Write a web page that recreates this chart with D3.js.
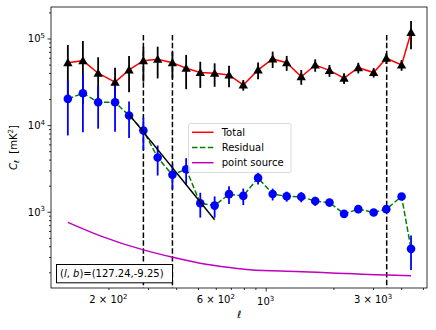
<!DOCTYPE html>
<html>
<head>
<meta charset="utf-8">
<script src="https://cdn.jsdelivr.net/npm/d3@7"></script>
<style>
  body { margin: 0; background: #fff; }
  svg text { font-family: 'DejaVu Sans', sans-serif; fill: #000; }
</style>
</head>
<body>
<div id="graph"></div>
<script>
'use strict';

let WIDTH = 436;
let HEIGHT = 330;
let PLOT = { left: 51, right: 427, top: 7, bottom: 288 };

// multipole bins
let ELL = [132, 154, 180, 214, 247, 286, 331, 385, 443, 512, 593, 687, 795,
    925, 1074, 1240, 1439, 1660, 1921, 2230, 2580, 3020, 3436, 4018, 4426];

let TOTAL = [52600, 55500, 39700, 31300, 43400, 55500, 57500, 52600, 45300,
    40400, 39700, 37900, 29100, 43400, 58100, 52600, 36200, 49400, 42800,
    34800, 46000, 40400, 59200, 49400, 117300];
let TOTAL_ERR = [31500, 38100, 21000, 14700, 19400, 23800, 22900, 17900, 19300,
    13500, 12000, 10600, 4100, 9500, 12400, 10300, 7000, 8100, 6700,
    4900, 6500, 5000, 8400, 7000, 42000];

let RESID = [20100, 23300, 18400, 18400, 12900, 8650, 4220, 2670, 3100,
    1256, 1178, 1596, 1524, 2460, 1600, 1507, 1487, 1328, 1276,
    946, 1072, 980, 1072, 1500, 373];
let RESID_ERR = [12500, 15000, 9300, 10000, 5800, 3500, 1600, 850, 1050,
    400, 325, 370, 330, 400, 250, 200, 200, 160, 130,
    80, 110, 60, 60, 130, 160];

let PS_ELL = [132, 184, 286, 386, 511, 693, 851, 1373, 3450, 4426];
let PS_CL = [755, 527, 363, 299, 255, 227, 214, 204, 186, 183];

let FIT_ELL = [247, 593];
let FIT_CL = [13300, 807];

let CUT_ELL = [286, 385, 3450];
let CUT_TOP = 110000;

let X_DOMAIN = [111.1, 5212];
let Y_DOMAIN = [131.8, 230900];

let X_LABEL_TICKS = [200, 600, 1000, 3000];
let X_LABEL_TEXT = [['2 × 10', '2'], ['6 × 10', '2'], ['10', '3'], ['3 × 10', '3']];
let Y_LABEL_TICKS = [1e3, 1e4, 1e5];
let Y_LABEL_TEXT = [['10', '3'], ['10', '4'], ['10', '5']];

let LEGEND = ['Total', 'Residual', 'point source'];
let ANNOT = ['127.24', '-9.25'];

let COLORS = {
    total: '#ff0000',
    resid: '#008000',
    point: '#0000ff',
    ps: '#bf00bf',
};

let DASH = '5.5,2.4';

function minorTicks (domain) {
    let out = [];
    let lo = Math.floor(Math.log10(domain[0]));
    let hi = Math.ceil(Math.log10(domain[1]));
    for (let k = lo; k <= hi; k++) {
        for (let m = 2; m <= 9; m++) {
            let v = m * Math.pow(10, k);
            if (v >= domain[0] && v <= domain[1]) out.push(v);
        }
    }
    return out;
}

function majorTicks (domain) {
    let out = [];
    for (let k = 0; k < 8; k++) {
        let v = Math.pow(10, k);
        if (v >= domain[0] && v <= domain[1]) out.push(v);
    }
    return out;
}

function visualize () {
    let svg = d3.select('#graph')
        .append('svg')
        .attr('width', WIDTH)
        .attr('height', HEIGHT);

    let x = d3.scaleLog().domain(X_DOMAIN).range([PLOT.left, PLOT.right]);
    let y = d3.scaleLog().domain(Y_DOMAIN).range([PLOT.bottom, PLOT.top]);

    svg.append('clipPath')
        .attr('id', 'clip')
        .append('rect')
        .attr('x', PLOT.left)
        .attr('y', PLOT.top)
        .attr('width', PLOT.right - PLOT.left)
        .attr('height', PLOT.bottom - PLOT.top);

    let plot = svg.append('g').attr('clip-path', 'url(#clip)');

    drawCuts(plot, x, y);
    drawTotal(plot, x, y);
    drawResidual(plot, x, y);
    drawPointSource(plot, x, y);
    drawFit(plot, x, y);

    drawAxes(svg, x, y);
    drawLegend(svg);
    drawAnnotation(svg);

    svg.append('rect')
        .attr('x', PLOT.left)
        .attr('y', PLOT.top)
        .attr('width', PLOT.right - PLOT.left)
        .attr('height', PLOT.bottom - PLOT.top)
        .attr('fill', 'none')
        .attr('stroke', '#000')
        .attr('stroke-width', 0.8);
}

function drawCuts (g, x, y) {
    g.selectAll('.cut')
        .data(CUT_ELL)
        .enter()
        .append('line')
        .attr('class', 'cut')
        .attr('x1', d => x(d))
        .attr('x2', d => x(d))
        .attr('y1', y(CUT_TOP))
        .attr('y2', PLOT.bottom + 5)
        .attr('stroke', '#000')
        .attr('stroke-width', 1.5)
        .attr('stroke-dasharray', DASH);
}

function errorBars (g, x, y, vals, errs, color) {
    g.selectAll(null)
        .data(vals)
        .enter()
        .append('line')
        .attr('x1', (d, i) => x(ELL[i]))
        .attr('x2', (d, i) => x(ELL[i]))
        .attr('y1', (d, i) => y(d + errs[i]))
        .attr('y2', (d, i) => y(Math.max(d - errs[i], 1)))
        .attr('stroke', color)
        .attr('stroke-width', 1.8);
}

function drawTotal (g, x, y) {
    errorBars(g, x, y, TOTAL, TOTAL_ERR, '#000');

    let line = d3.line()
        .x((d, i) => x(ELL[i]))
        .y(d => y(d));

    g.append('path')
        .datum(TOTAL)
        .attr('d', line)
        .attr('fill', 'none')
        .attr('stroke', COLORS.total)
        .attr('stroke-width', 1.5);

    let tri = d3.symbol().type(d3.symbolTriangle).size(38);
    g.selectAll('.tri')
        .data(TOTAL)
        .enter()
        .append('path')
        .attr('class', 'tri')
        .attr('d', tri)
        .attr('transform', (d, i) => 'translate(' + x(ELL[i]) + ',' + (y(d) + 0.8) + ')')
        .attr('fill', '#000');
}

function drawResidual (g, x, y) {
    errorBars(g, x, y, RESID, RESID_ERR, COLORS.point);

    let line = d3.line()
        .x((d, i) => x(ELL[i]))
        .y(d => y(d));

    g.append('path')
        .datum(RESID)
        .attr('d', line)
        .attr('fill', 'none')
        .attr('stroke', COLORS.resid)
        .attr('stroke-width', 1.5)
        .attr('stroke-dasharray', DASH);

    g.selectAll('.dot')
        .data(RESID)
        .enter()
        .append('circle')
        .attr('class', 'dot')
        .attr('cx', (d, i) => x(ELL[i]))
        .attr('cy', d => y(d))
        .attr('r', 4.3)
        .attr('fill', COLORS.point);
}

function drawPointSource (g, x, y) {
    let line = d3.line()
        .x((d, i) => x(PS_ELL[i]))
        .y(d => y(d))
        .curve(d3.curveMonotoneX);

    g.append('path')
        .datum(PS_CL)
        .attr('d', line)
        .attr('fill', 'none')
        .attr('stroke', COLORS.ps)
        .attr('stroke-width', 1.5);
}

function drawFit (g, x, y) {
    let line = d3.line()
        .x((d, i) => x(FIT_ELL[i]))
        .y(d => y(d));

    g.append('path')
        .datum(FIT_CL)
        .attr('d', line)
        .attr('fill', 'none')
        .attr('stroke', '#000')
        .attr('stroke-width', 1.5);
}

function styleAxis (g) {
    g.select('.domain').remove();
    g.selectAll('.tick line').attr('stroke', '#000').attr('stroke-width', 0.8);
}

function drawAxes (svg, x, y) {
    svg.append('g')
        .attr('transform', 'translate(0,' + PLOT.bottom + ')')
        .call(d3.axisBottom(x).tickValues(minorTicks(X_DOMAIN)).tickSize(2).tickFormat(''))
        .call(styleAxis);
    svg.append('g')
        .attr('transform', 'translate(0,' + PLOT.bottom + ')')
        .call(d3.axisBottom(x).tickValues(majorTicks(X_DOMAIN)).tickSize(3.5).tickFormat(''))
        .call(styleAxis);

    svg.append('g')
        .attr('transform', 'translate(' + PLOT.left + ',0)')
        .call(d3.axisLeft(y).tickValues(minorTicks(Y_DOMAIN)).tickSize(2).tickFormat(''))
        .call(styleAxis);
    svg.append('g')
        .attr('transform', 'translate(' + PLOT.left + ',0)')
        .call(d3.axisLeft(y).tickValues(majorTicks(Y_DOMAIN)).tickSize(3.5).tickFormat(''))
        .call(styleAxis);

    // x tick labels
    let xl = svg.selectAll('.xlab')
        .data(X_LABEL_TICKS)
        .enter()
        .append('text')
        .attr('class', 'xlab')
        .attr('x', d => x(d))
        .attr('y', d => (Math.log10(d) % 1 === 0) ? 305 : 303)
        .attr('text-anchor', 'middle')
        .style('font-size', '10px');
    xl.append('tspan').text((d, i) => X_LABEL_TEXT[i][0]);
    xl.append('tspan')
        .attr('dy', -4.5)
        .style('font-size', '7px')
        .text((d, i) => X_LABEL_TEXT[i][1]);

    // y tick labels
    let yl = svg.selectAll('.ylab')
        .data(Y_LABEL_TICKS)
        .enter()
        .append('text')
        .attr('class', 'ylab')
        .attr('x', PLOT.left - 6)
        .attr('y', d => y(d) + 4)
        .attr('text-anchor', 'end')
        .style('font-size', '10px');
    yl.append('tspan').text((d, i) => Y_LABEL_TEXT[i][0]);
    yl.append('tspan')
        .attr('dy', -4.5)
        .style('font-size', '7px')
        .text((d, i) => Y_LABEL_TEXT[i][1]);

    // axis titles
    svg.append('text')
        .attr('x', (PLOT.left + PLOT.right) / 2)
        .attr('y', 318)
        .attr('text-anchor', 'middle')
        .style('font-size', '10px')
        .style('font-style', 'italic')
        .text('ℓ');

    let yt = svg.append('text')
        .attr('transform', 'translate(17,' + ((PLOT.top + PLOT.bottom) / 2) + ') rotate(-90)')
        .attr('text-anchor', 'middle')
        .style('font-size', '10px');
    yt.append('tspan').style('font-style', 'italic').text('C');
    yt.append('tspan').attr('dy', 2).style('font-size', '7px').style('font-style', 'italic').text('ℓ');
    yt.append('tspan').attr('dy', -2).text('\u00a0\u00a0[mK');
    yt.append('tspan').attr('dy', -4).style('font-size', '7px').text('2');
    yt.append('tspan').attr('dy', 4).text(']');
}

function drawLegend (svg) {
    let box = { x: 188.5, y: 123.5, w: 102.5, h: 49 };
    svg.append('rect')
        .attr('x', box.x)
        .attr('y', box.y)
        .attr('width', box.w)
        .attr('height', box.h)
        .attr('rx', 2)
        .attr('fill', '#fff')
        .attr('fill-opacity', 0.8)
        .attr('stroke', '#d0d0d0')
        .attr('stroke-width', 0.8);

    let styles = [
        { color: COLORS.total, dash: null },
        { color: COLORS.resid, dash: DASH },
        { color: COLORS.ps, dash: null },
    ];

    let rows = svg.selectAll('.leg')
        .data(LEGEND)
        .enter()
        .append('g')
        .attr('class', 'leg')
        .attr('transform', (d, i) => 'translate(' + (box.x + 3.5) + ',' + (132.3 + i * 15.2) + ')');

    rows.append('line')
        .attr('x1', 0)
        .attr('x2', 21.5)
        .attr('stroke', (d, i) => styles[i].color)
        .attr('stroke-width', 1.5)
        .attr('stroke-dasharray', (d, i) => styles[i].dash);

    rows.append('text')
        .attr('x', 29.7)
        .attr('y', 3.6)
        .style('font-size', '10px')
        .text(d => d);
}

function drawAnnotation (svg) {
    svg.append('rect')
        .attr('x', 56.5)
        .attr('y', 264.5)
        .attr('width', 116)
        .attr('height', 18.3)
        .attr('fill', '#fff')
        .attr('stroke', '#000')
        .attr('stroke-width', 1);

    let t = svg.append('text')
        .attr('x', 60)
        .attr('y', 277)
        .style('font-size', '10px');
    t.append('tspan').text('(');
    t.append('tspan').style('font-style', 'italic').text('l');
    t.append('tspan').text(', ');
    t.append('tspan').style('font-style', 'italic').text('b');
    t.append('tspan').text(')=(' + ANNOT[0] + ',' + ANNOT[1] + ')');
}

visualize();
</script>
</body>
</html>
